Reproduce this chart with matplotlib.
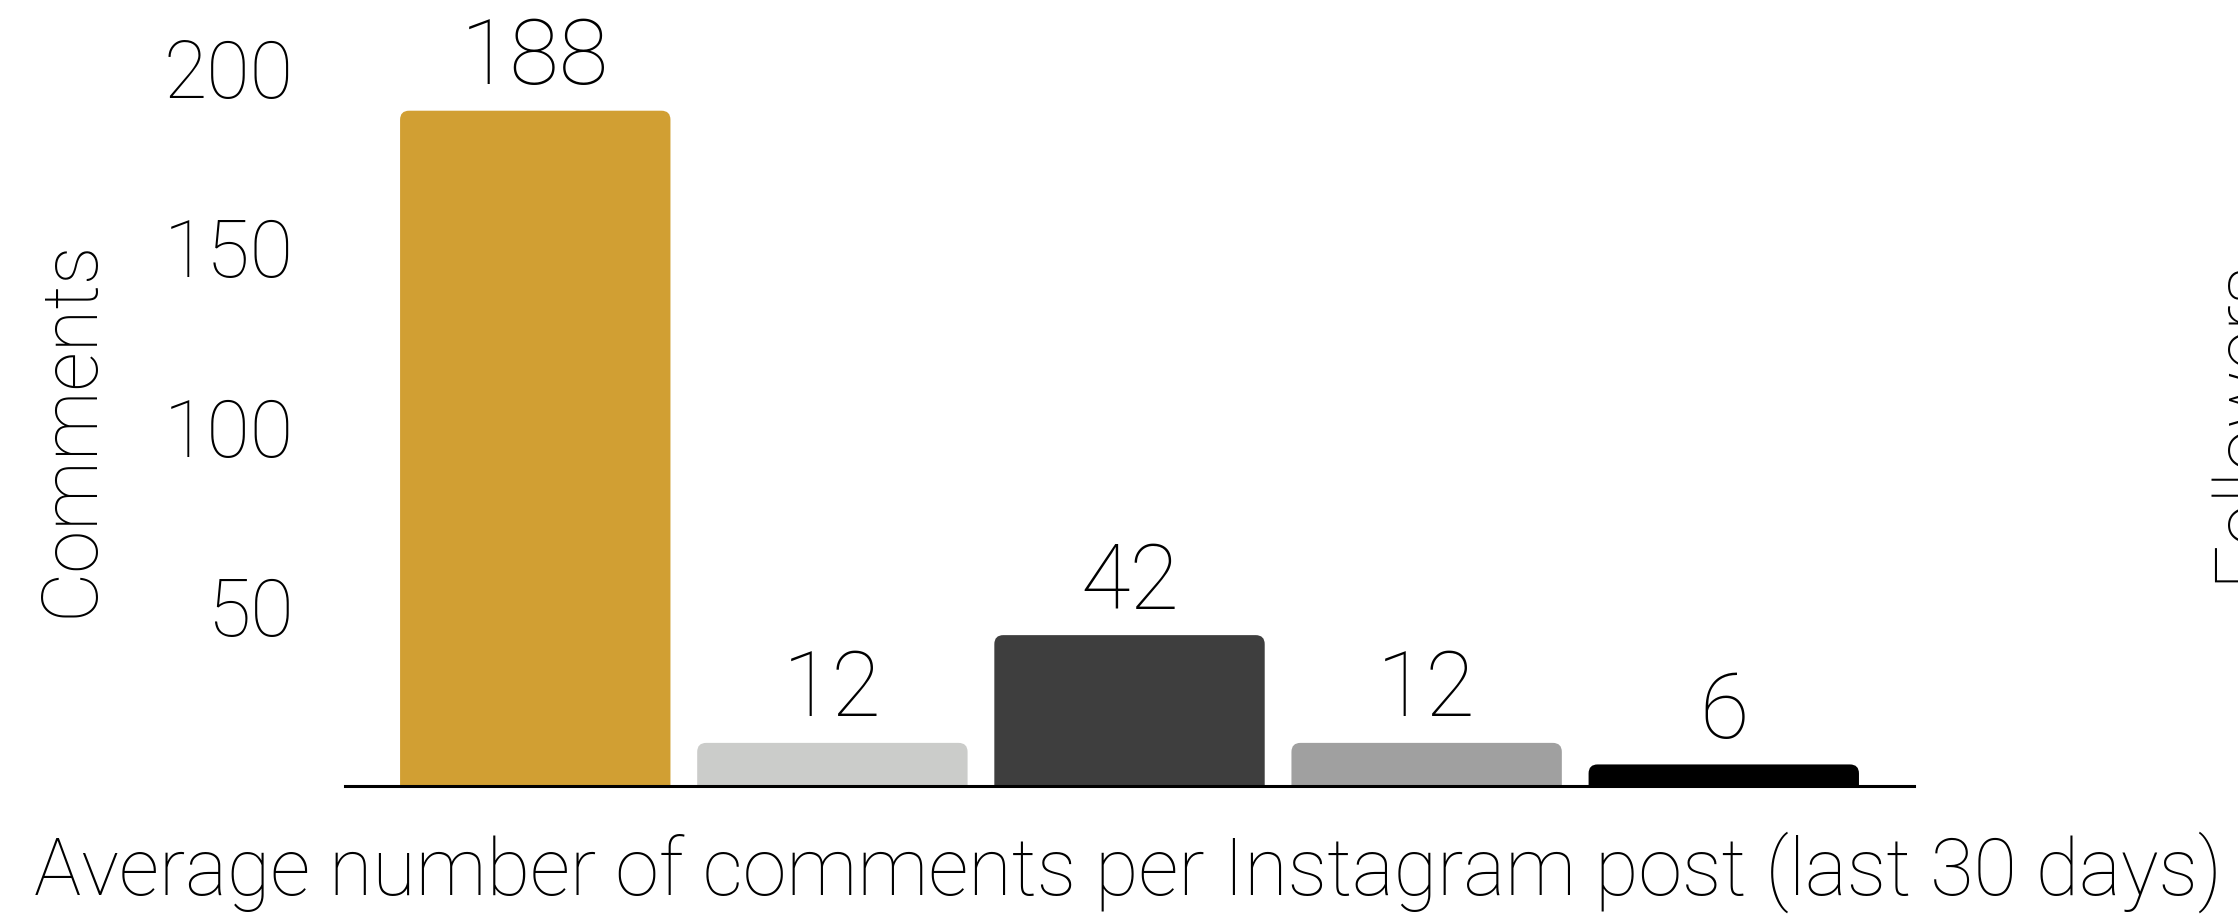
import matplotlib
matplotlib.use("Agg")
import matplotlib.pyplot as plt
from matplotlib.patches import FancyBboxPatch

# data
categories = ["A", "B", "C", "D", "E"]
comments = [188, 12, 42, 12, 6]
bar_colors = ["#D19F33", "#CBCCCA", "#3E3E3E", "#A0A0A0", "#000000"]
y_ticks = [50, 100, 150, 200]

plt.rcParams["font.family"] = ["Roboto", "DejaVu Sans"]
plt.rcParams["font.weight"] = "light"


def main() -> None:
    fig = plt.figure(figsize=(22.38, 9.15), dpi=100)
    ax = fig.add_axes([0.1542, 0.141, 0.701, 0.844])

    x = list(range(len(categories)))
    ax.set_xlim(-0.64, len(categories) - 1 + 0.64)
    ax.set_ylim(0, 215)

    bars = ax.bar(x, comments, width=0.91, color="none")

    # swap plain rectangles for ones with rounded top corners
    fig.canvas.draw()
    px_x = ax.transData.transform((1, 0))[0] - ax.transData.transform((0, 0))[0]
    px_y = ax.transData.transform((0, 1))[1] - ax.transData.transform((0, 0))[1]
    radius = 9 / px_x
    aspect = px_x / px_y
    for rect, color in zip(bars, bar_colors):
        patch = FancyBboxPatch(
            (rect.get_x(), -20), rect.get_width(), rect.get_height() + 20,
            boxstyle=f"round,pad=0,rounding_size={radius}",
            mutation_aspect=aspect, facecolor=color, edgecolor="none",
            clip_on=True,
        )
        ax.add_patch(patch)
        patch.set_clip_path(ax.patch)
        rect.remove()

    for xi, val in zip(x, comments):
        ax.annotate(str(val), (xi, val), xytext=(0, 19), textcoords="offset points",
                    ha="center", va="baseline", fontsize=65, fontweight="light")

    for side in ["top", "right", "left"]:
        ax.spines[side].set_visible(False)
    ax.spines["bottom"].set_linewidth(2.2)
    ax.spines["bottom"].set_zorder(5)

    ax.set_xticks([])
    ax.set_yticks(y_ticks)
    ax.tick_params(axis="y", length=0, pad=37, labelsize=57)

    fig.text(0.032, 0.532, "Comments", rotation=90, ha="center", va="center", fontsize=56)
    fig.text(0.504, 0.047, "Average number of comments per Instagram post (last 30 days)",
             ha="center", va="center", fontsize=57)
    # label of the neighbouring panel, cut off at the right edge
    fig.text(0.985, 0.541, "Followers", rotation=90, ha="left", va="center", fontsize=56)

    fig.savefig("out.png", dpi=100)
    plt.close(fig)


if __name__ == "__main__":
    main()
